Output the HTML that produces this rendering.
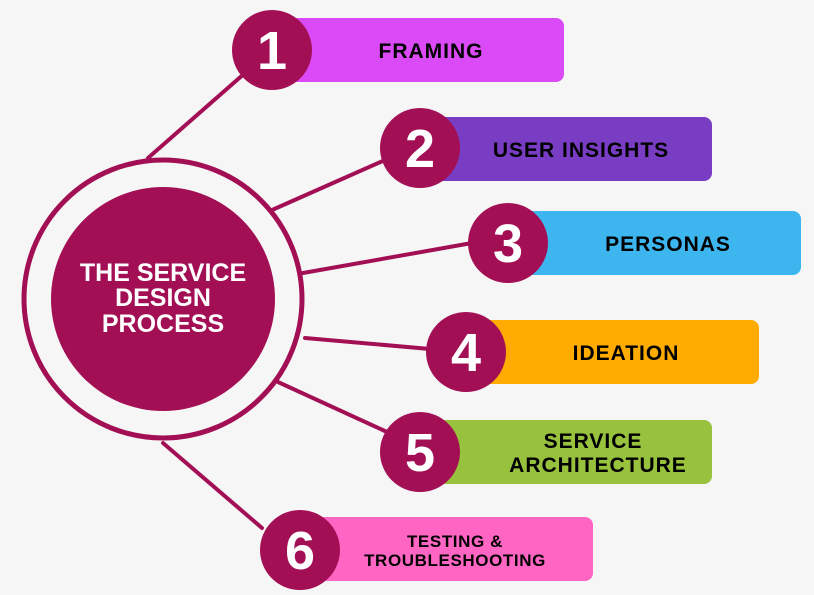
<!DOCTYPE html>
<html><head><style>
html,body{margin:0;padding:0;background:#f6f6f6;}
svg{display:block;}
text{font-family:"Liberation Sans",sans-serif;font-weight:bold;}
</style></head><body>
<svg width="814" height="595" viewBox="0 0 814 595" xmlns="http://www.w3.org/2000/svg">
<rect width="814" height="595" fill="#f6f6f6"/>
<g stroke="#a30f54" stroke-width="4" stroke-linecap="round">
<line x1="148" y1="158" x2="245" y2="73"/>
<line x1="272" y1="210" x2="385" y2="160"/>
<line x1="303" y1="273" x2="472" y2="243"/>
<line x1="305" y1="338" x2="430" y2="349"/>
<line x1="278" y1="382" x2="387" y2="432"/>
<line x1="163" y1="443" x2="262" y2="528"/>
</g>
<circle cx="163" cy="299" r="139" fill="#f6f6f6" stroke="#a30f54" stroke-width="5"/>
<circle cx="163" cy="299" r="112" fill="#a30f54"/>
<g fill="#fff" font-size="25" text-anchor="middle">
<text x="163" y="281">THE SERVICE</text>
<text x="163" y="306">DESIGN</text>
<text x="163" y="332">PROCESS</text>
</g>
<rect x="285" y="18" width="279" height="64" rx="8" fill="#da4af6"/>
<rect x="435" y="117" width="277" height="64" rx="8" fill="#793dc3"/>
<rect x="520" y="211" width="281" height="64" rx="8" fill="#3db6f0"/>
<rect x="480" y="320" width="279" height="64" rx="8" fill="#ffab00"/>
<rect x="435" y="420" width="277" height="64" rx="8" fill="#98c13d"/>
<rect x="315" y="517" width="278" height="64" rx="8" fill="#ff66c4"/>
<g fill="#a30f54">
<circle cx="272" cy="50" r="40"/>
<circle cx="420" cy="148" r="40"/>
<circle cx="508" cy="243" r="40"/>
<circle cx="466" cy="352" r="40"/>
<circle cx="420" cy="452" r="40"/>
<circle cx="300" cy="550" r="40"/>
</g>
<g fill="#fff" font-size="54" text-anchor="middle">
<text x="272" y="69">1</text>
<text x="420" y="167">2</text>
<text x="508" y="262">3</text>
<text x="466" y="371">4</text>
<text x="420" y="471">5</text>
<text x="300" y="569">6</text>
</g>
<g fill="#000" font-size="21" text-anchor="middle" letter-spacing="1">
<text x="431" y="58">FRAMING</text>
<text x="581" y="157">USER INSIGHTS</text>
<text x="668" y="251">PERSONAS</text>
<text x="626" y="360">IDEATION</text>
<text x="593" y="448">SERVICE</text>
<text x="598" y="472">ARCHITECTURE</text>
<text x="455" y="547" font-size="17" letter-spacing="0.6">TESTING &amp;</text>
<text x="455" y="566" font-size="17" letter-spacing="0.6">TROUBLESHOOTING</text>
</g>
</svg>
</body></html>
